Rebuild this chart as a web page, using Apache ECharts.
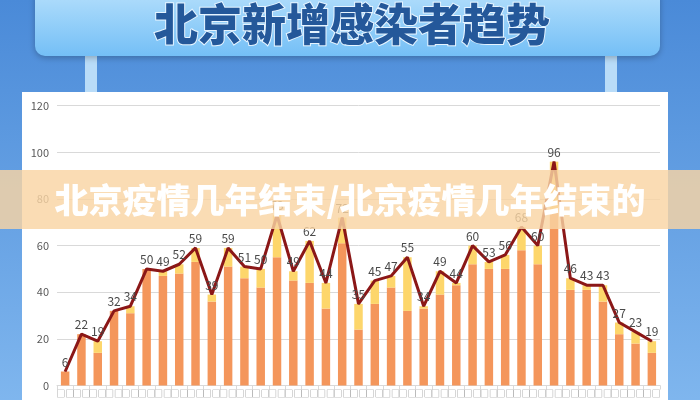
<!DOCTYPE html>
<html>
<head>
<meta charset="utf-8">
<script src="https://cdn.jsdelivr.net/npm/echarts@6/dist/echarts.min.js"></script>
<style>html,body{margin:0;padding:0;background:#4d8fdc;}#c{width:700px;height:400px;}</style>
</head>
<body>
<div id="c"></div>
<script>
const chartTitle = '北京新增感染者趋势';
const overlayText = '北京疫情几年结束/北京疫情几年结束的';
const categories = ['□□','□□','□□','□□','□□','□□','□□','□□','□□','□□','□□','□□','□□','□□','□□','□□','□□','□□','□□','□□','□□','□□','□□','□□','□□','□□','□□','□□','□□','□□','□□','□□','□□','□□','□□','□□','□□'];
const totals = [6,22,19,32,34,50,49,52,59,39,59,51,50,73,49,62,44,72,35,45,47,55,34,49,44,60,53,56,68,60,96,46,43,43,27,23,19];
const orangePart = [6,22,14,32,31,50,47,48,53,36,51,46,42,55,45,44,33,61,24,35,42,32,33,39,43,52,50,50,58,52,75,41,41,36,22,18,14];
const yellowPart = [0,0,5,0,3,0,2,4,6,3,8,5,8,18,4,18,11,11,11,10,5,23,1,10,1,8,3,6,10,8,21,5,2,7,5,5,5];
const yTicks = [0,20,40,60,80,100,120];

const chart = echarts.init(document.getElementById('c'), null, {renderer:'canvas'});
const font = '"Noto Sans CJK SC", "Noto Sans", sans-serif';
chart.setOption({
  animation: false,
  backgroundColor: 'transparent',
  textStyle: {fontFamily: font},
  graphic: [
    {type:'rect', z:-20, silent:true, shape:{x:0,y:0,width:700,height:400},
     style:{fill:new echarts.graphic.LinearGradient(0,0,0,1,[{offset:0,color:'#4a8ad8'},{offset:1,color:'#7fb6ee'}])}},
    {type:'rect', z:-19, silent:true, shape:{x:85,y:50,width:12,height:44}, style:{fill:'#b9dcf8'}},
    {type:'rect', z:-19, silent:true, shape:{x:605,y:50,width:12,height:44}, style:{fill:'#b9dcf8'}},
    {type:'rect', z:-18, silent:true, shape:{x:35,y:-12,width:625,height:68,r:10},
     style:{fill:new echarts.graphic.LinearGradient(0,0,0,1,[{offset:0,color:'#b6e0fc'},{offset:1,color:'#74bff6'}]),
            shadowBlur:6, shadowColor:'rgba(0,0,0,0.25)', shadowOffsetY:2}},
    {type:'text', z:-17, silent:true, x:352, y:24,
     style:{text:chartTitle, fill:'#24589a', fontSize:44, fontWeight:900, fontFamily:font,
            align:'center', verticalAlign:'middle', stroke:'#e6f4ff', lineWidth:2}},
    {type:'rect', z:-16, silent:true, shape:{x:22,y:92,width:646,height:320},
     style:{fill:'#ffffff'}},
    {type:'rect', z:100, silent:true, shape:{x:0,y:170,width:700,height:59},
     style:{fill:'rgba(249,212,164,0.82)'}},
    {type:'text', z:101, silent:true, x:350, y:200,
     style:{text:overlayText, fill:'#ffffff', fontSize:34, fontWeight:900, fontFamily:font,
            align:'center', verticalAlign:'middle', shadowBlur:2, shadowColor:'rgba(0,0,0,0.15)'}}
  ],
  grid: {left:57, right:40, top:105.7, bottom:14.5, containLabel:false},
  xAxis: {
    type:'category', data:categories,
    axisLine:{lineStyle:{color:'#d9d9d9'}},
    axisTick:{show:true, lineStyle:{color:'#d9d9d9'}, length:4},
    axisLabel:{color:'#8c8c8c', fontSize:9, margin:4, interval:0}
  },
  yAxis: {
    type:'value', min:0, max:120, interval:20,
    axisLine:{show:false}, axisTick:{show:false},
    axisLabel:{color:'#595959', fontSize:11, margin:8,
      formatter: v => yTicks.includes(v) ? String(v) : ''},
    splitLine:{lineStyle:{color:'#d9d9d9', width:1}}
  },
  series: [
    {type:'bar', stack:'s', data:orangePart, barWidth:'52%', itemStyle:{color:'#f4965b'}, z:2},
    {type:'bar', stack:'s', data:yellowPart, barWidth:'52%', itemStyle:{color:'#fdd66b'}, z:2},
    {type:'line', data:totals, z:5, symbol:'circle', symbolSize:1,
     lineStyle:{color:'#8b1717', width:3}, itemStyle:{color:'#8b1717'},
     label:{show:true, position:'top', distance:3, color:'#4a4a4a', fontSize:12}}
  ]
});
</script>
</body>
</html>
